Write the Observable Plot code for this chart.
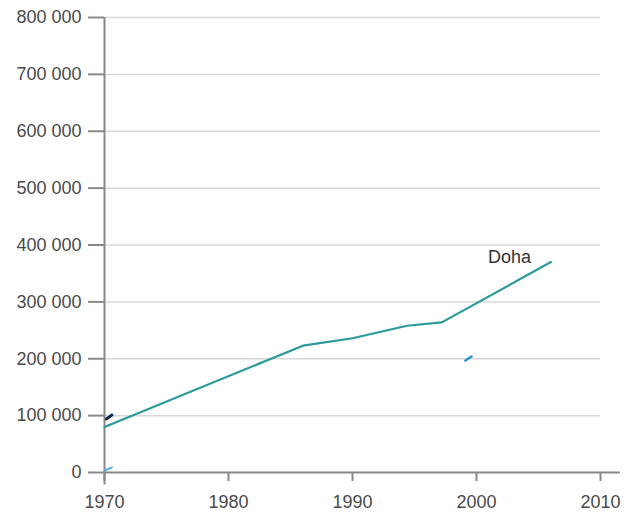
<!DOCTYPE html>
<html>
<head>
<meta charset="utf-8">
<script src="https://cdn.jsdelivr.net/npm/d3@7"></script>
<script src="https://cdn.jsdelivr.net/npm/@observablehq/plot@0.6"></script>
<style>
  html, body { margin: 0; padding: 0; background: #fff; }
  #chart svg { display: block; }
</style>
</head>
<body>
<div id="chart"></div>
<script>
// Doha population
const years = [1970, 1986, 1990, 1994.4, 1997.2, 2006];
const population = [80000, 223000, 236000, 258000, 264000, 370000];
const seriesName = "Doha";

// faint fragments of other series visible in the picture
const navyYears = [1970.15, 1970.6];
const navyValues = [94000, 101000];
const lightYears = [1970, 1970.6];
const lightValues = [3500, 9000];
const dashYears = [1999.1, 1999.6];
const dashValues = [197000, 204000];

const yTicks = [0, 100000, 200000, 300000, 400000, 500000, 600000, 700000, 800000];
const xTicks = [1970, 1980, 1990, 2000, 2010];

const data = years.map((y, i) => ({year: y, value: population[i]}));
const navy = navyYears.map((y, i) => ({year: y, value: navyValues[i]}));
const light = lightYears.map((y, i) => ({year: y, value: lightValues[i]}));
const dash = dashYears.map((y, i) => ({year: y, value: dashValues[i]}));
const last = data[data.length - 1];

const fmt = d => d3.format(",")(d).replace(/,/g, " ");

const chart = Plot.plot({
  width: 636,
  height: 515,
  marginLeft: 104,
  marginRight: 36,
  marginTop: 17,
  marginBottom: 43,
  style: {fontFamily: "'Liberation Sans', Arial, sans-serif", fontSize: "18px", color: "#444", background: "#fff"},
  x: {domain: [1970, 2010]},
  y: {domain: [0, 800000]},
  marks: [
    Plot.ruleY(yTicks.filter(d => d > 0), {x1: 1970, x2: 2010, stroke: "#d8d8d8", strokeWidth: 1.5}),
    Plot.axisY({ticks: yTicks, tickSize: 16, tickPadding: 7, tickFormat: fmt, stroke: "#888", strokeWidth: 2, fill: "#4a4a4a", fontSize: 18, label: null}),
    Plot.axisX({ticks: xTicks, tickSize: 9, tickPadding: 14, tickFormat: d => String(d), stroke: "#888", strokeWidth: 2, fill: "#4a4a4a", fontSize: 18, label: null}),
    Plot.ruleY([0], {x1: 1970, x2: 2011.6, stroke: "#888", strokeWidth: 2, clip: false}),
    Plot.ruleX([1970], {y1: -22000, y2: 800000, stroke: "#888", strokeWidth: 2, clip: false}),
    Plot.line(navy, {x: "year", y: "value", stroke: "#0d2a52", strokeWidth: 3}),
    Plot.line(light, {x: "year", y: "value", stroke: "#4fb3d9", strokeWidth: 2}),
    Plot.line(dash, {x: "year", y: "value", stroke: "#2a8fd0", strokeWidth: 2.5}),
    Plot.line(data, {x: "year", y: "value", stroke: "#2b9a9b", strokeWidth: 2.2}),
    Plot.text([last], {x: "year", y: "value", text: () => seriesName, dx: -63, dy: -5, textAnchor: "start", fill: "#333", fontSize: 18})
  ]
});
document.getElementById("chart").appendChild(chart);
</script>
</body>
</html>
